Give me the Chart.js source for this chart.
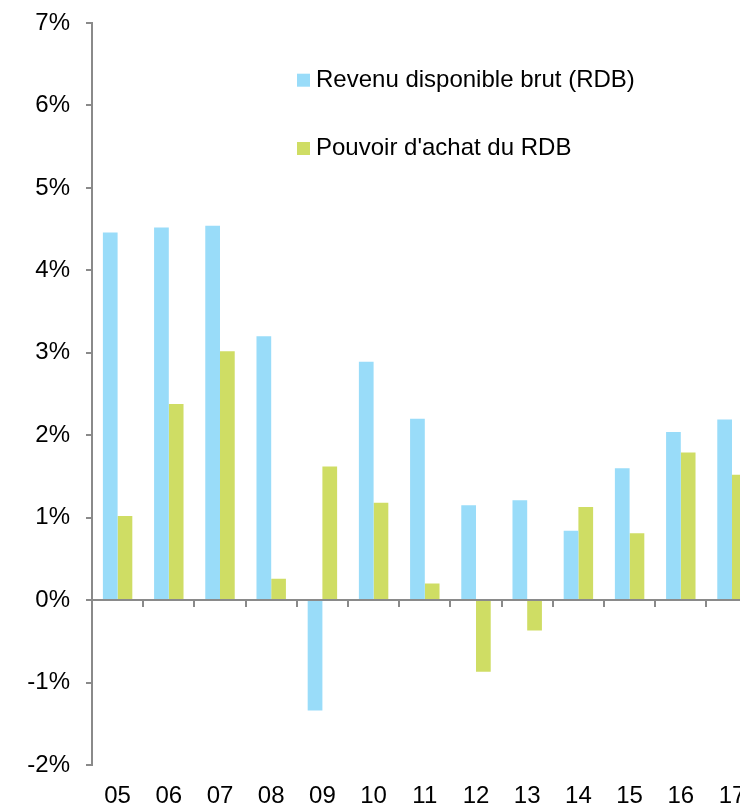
<!DOCTYPE html>
<html>
<head>
<meta charset="utf-8">
<script src="https://cdn.jsdelivr.net/npm/chart.js@4"></script>
<style>
  html, body { margin: 0; padding: 0; background: #fff; overflow: hidden; }
  .wrap { position: relative; width: 771px; height: 806px; }
</style>
</head>
<body>
<div class="wrap"><canvas id="grafik_rdb"></canvas></div>
<script>
var annees = ['05', '06', '07', '08', '09', '10', '11', '12', '13', '14', '15', '16', '17'];
var rdb = [4.46, 4.52, 4.54, 3.20, -1.34, 2.89, 2.20, 1.15, 1.21, 0.84, 1.60, 2.04, 2.19];
var pouvoirAchat = [1.02, 2.38, 3.02, 0.26, 1.62, 1.18, 0.20, -0.87, -0.37, 1.13, 0.81, 1.79, 1.52];
var yTicks = [-2, -1, 0, 1, 2, 3, 4, 5, 6, 7];

var gris = '#8a8a8a';
var police = "Arial, 'Liberation Sans', sans-serif";

// legende dessinee dans la zone du graphique
var legendePlugin = {
    id: 'legende',
    afterDraw: function (chart) {
        var ctx = chart.ctx;
        ctx.save();
        ctx.font = '24px ' + police;
        ctx.textBaseline = 'alphabetic';
        chart.data.datasets.forEach(function (ds, i) {
            var y = 86.7 + i * 68.3;
            ctx.fillStyle = ds.backgroundColor;
            ctx.fillRect(297, y - 13, 13, 13);
            ctx.fillStyle = '#000';
            ctx.fillText(ds.label, 316, y);
        });
        ctx.restore();
    }
};

const ctx = document.getElementById('grafik_rdb');
new Chart(ctx, {
    type: 'bar',
    data: {
        labels: annees,
        datasets: [{
            label: 'Revenu disponible brut (RDB)',
            data: rdb,
            backgroundColor: '#99dcf9',
            borderWidth: 0,
            categoryPercentage: 0.575,
            barPercentage: 1
        }, {
            label: "Pouvoir d'achat du RDB",
            data: pouvoirAchat,
            backgroundColor: '#cfdd64',
            borderWidth: 0,
            categoryPercentage: 0.575,
            barPercentage: 1
        }]
    },
    options: {
        responsive: true,
        maintainAspectRatio: false,
        animation: false,
        layout: { padding: { top: 23, right: 13.4, bottom: 0, left: 0 } },
        plugins: {
            legend: { display: false },
            tooltip: { enabled: false }
        },
        scales: {
            x: {
                type: 'category',
                position: { y: 0 },
                grid: { drawOnChartArea: false, offset: true, color: gris, tickColor: gris, tickLength: 6, lineWidth: 2 },
                border: { color: gris, width: 2 },
                ticks: { display: false },
                afterFit: function (scale) { scale.height = 0; scale.paddingTop = 0; scale.paddingBottom = 0; }
            },
            xLabels: {
                type: 'category',
                labels: annees,
                position: 'bottom',
                offset: true,
                grid: { display: false, drawTicks: false },
                border: { display: false },
                ticks: { color: '#000', font: { family: police, size: 24 }, padding: 17, maxRotation: 0, autoSkip: false },
                afterFit: function (scale) { scale.height = 41; }
            },
            y: {
                min: -2,
                max: 7,
                afterBuildTicks: function (scale) {
                    scale.ticks = yTicks.map(function (v) { return { value: v }; });
                },
                grid: { drawOnChartArea: false, color: gris, tickColor: gris, tickLength: 6, lineWidth: 2 },
                border: { color: gris, width: 2 },
                ticks: {
                    color: '#000',
                    font: { family: police, size: 24 },
                    padding: 16,
                    callback: function (v) { return v + '%'; }
                },
                afterFit: function (scale) { scale.width = 92; scale.paddingTop = 0; scale.paddingBottom = 0; }
            }
        }
    },
    plugins: [legendePlugin]
});
</script>
</body>
</html>
